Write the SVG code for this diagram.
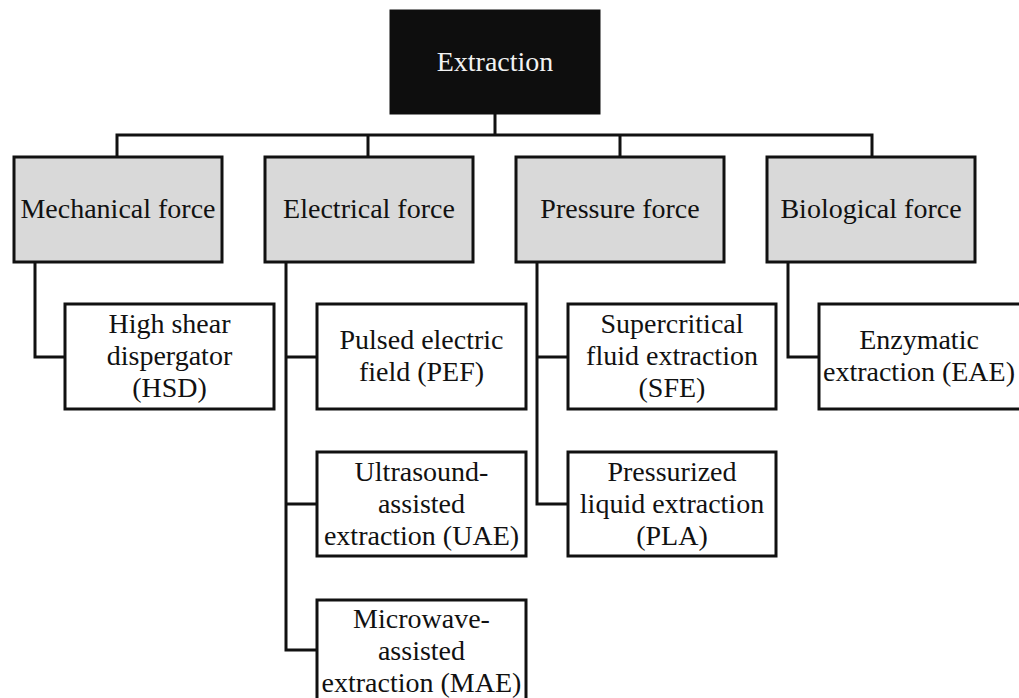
<svg xmlns="http://www.w3.org/2000/svg" width="1019" height="698" viewBox="0 0 1019 698">
<style>
.t{font-family:"Liberation Serif","Times New Roman",serif;font-size:28px;text-anchor:middle;fill:#111}
.root{fill:#0e0e0e;stroke:#0e0e0e;stroke-width:3}
.cat{fill:#d9d9d9;stroke:#111;stroke-width:3}
.leaf{fill:#fff;stroke:#111;stroke-width:3}
.c{fill:none;stroke:#111;stroke-width:3}
</style>
<rect width="1019" height="698" fill="#fff"/>
<g id="connectors">
<path class="c" d="M495 113V135M117 157V135H872V157M368 135V157M620 135V157"/>
<path class="c" d="M35 262V357H65"/>
<path class="c" d="M286 262V650H317M286 357H317M286 504H317"/>
<path class="c" d="M537 262V504H568M537 357H568"/>
<path class="c" d="M788 262V357H819"/>
</g>
<g id="extraction"><rect class="root" x="391" y="11" width="208" height="102"/><text class="t" x="495" y="71" style="fill:#f2f2f2">Extraction</text></g>
<g id="mechanical"><rect class="cat" x="14" y="157" width="208" height="105"/><text class="t" x="118" y="218">Mechanical force</text></g>
<g id="electrical"><rect class="cat" x="265" y="157" width="208" height="105"/><text class="t" x="369" y="218">Electrical force</text></g>
<g id="pressure"><rect class="cat" x="516" y="157" width="208" height="105"/><text class="t" x="620" y="218">Pressure force</text></g>
<g id="biological"><rect class="cat" x="767" y="157" width="208" height="105"/><text class="t" x="871" y="218">Biological force</text></g>
<g id="hsd"><rect class="leaf" x="65" y="304" width="209" height="105"/><text class="t" x="169.5"><tspan x="169.5" y="333">High shear</tspan><tspan x="169.5" y="365">dispergator</tspan><tspan x="169.5" y="397">(HSD)</tspan></text></g>
<g id="pef"><rect class="leaf" x="317" y="304" width="209" height="105"/><text class="t"><tspan x="421.5" y="349">Pulsed electric</tspan><tspan x="421.5" y="381">field (PEF)</tspan></text></g>
<g id="uae"><rect class="leaf" x="317" y="452" width="209" height="104"/><text class="t"><tspan x="421.5" y="481">Ultrasound-</tspan><tspan x="421.5" y="513">assisted</tspan><tspan x="421.5" y="545">extraction (UAE)</tspan></text></g>
<g id="mae"><rect class="leaf" x="317" y="600" width="209" height="104"/><text class="t"><tspan x="421.5" y="628">Microwave-</tspan><tspan x="421.5" y="660">assisted</tspan><tspan x="421.5" y="692">extraction (MAE)</tspan></text></g>
<g id="sfe"><rect class="leaf" x="568" y="304" width="208" height="105"/><text class="t"><tspan x="672" y="333">Supercritical</tspan><tspan x="672" y="365">fluid extraction</tspan><tspan x="672" y="397">(SFE)</tspan></text></g>
<g id="pla"><rect class="leaf" x="568" y="452" width="208" height="104"/><text class="t"><tspan x="672" y="481">Pressurized</tspan><tspan x="672" y="513">liquid extraction</tspan><tspan x="672" y="545">(PLA)</tspan></text></g>
<g id="eae"><rect class="leaf" x="819" y="304" width="208" height="105"/><text class="t"><tspan x="919" y="349">Enzymatic</tspan><tspan x="919" y="381">extraction (EAE)</tspan></text></g>
</svg>
